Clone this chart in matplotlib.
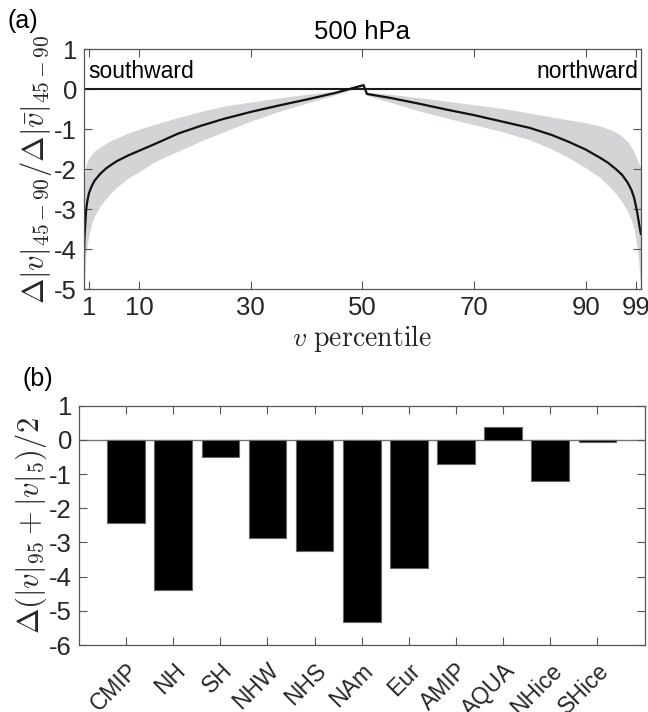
import matplotlib
matplotlib.use("Agg")
import matplotlib.pyplot as plt

plt.rcParams['font.family'] = ['Liberation Sans', 'DejaVu Sans']
plt.rcParams['mathtext.fontset'] = 'cm'

# ---- panel (a) data ----
pct = [0.1, 0.2, 0.3, 0.5, 0.7, 1, 1.5, 2, 3, 4, 5, 6, 8, 10, 13, 17, 21, 25, 30, 35,
       40, 45, 50.2, 50.8, 55, 60, 65, 70, 75, 80, 84, 87, 90, 92.5, 94, 95.5, 96.5,
       97.5, 98.2, 98.7, 99.2, 99.5, 99.8, 99.9]
mean_ratio = [-4.12, -3.7, -3.45, -3.0, -2.8, -2.6, -2.42, -2.29, -2.12, -1.99, -1.89,
              -1.8, -1.66, -1.54, -1.36, -1.11, -0.92, -0.75, -0.57, -0.41, -0.26, -0.1,
              0.1, -0.12, -0.22, -0.36, -0.51, -0.65, -0.81, -0.97, -1.15, -1.32, -1.51,
              -1.71, -1.84, -2.01, -2.14, -2.33, -2.52, -2.72, -3.05, -3.3, -3.55, -3.62]
upper_ratio = [-2.3, -2.2, -2.05, -1.9, -1.8, -1.72, -1.62, -1.55, -1.45, -1.36, -1.28,
               -1.22, -1.1, -1.0, -0.87, -0.71, -0.56, -0.43, -0.32, -0.22, -0.13, -0.05,
               0.13, -0.08, -0.13, -0.21, -0.3, -0.39, -0.48, -0.6, -0.7, -0.77, -0.84,
               -0.92, -0.99, -1.08, -1.18, -1.31, -1.45, -1.57, -1.75, -1.85, -1.93, -1.97]
lower_ratio = [-5.0, -4.75, -4.5, -4.1, -3.9, -3.65, -3.35, -3.17, -2.92, -2.75, -2.58,
               -2.45, -2.23, -2.06, -1.8, -1.55, -1.3, -1.08, -0.8, -0.56, -0.35, -0.15,
               0.07, -0.16, -0.33, -0.54, -0.72, -0.89, -1.06, -1.27, -1.5, -1.72, -1.97,
               -2.2, -2.4, -2.63, -2.82, -3.05, -3.28, -3.5, -3.95, -4.3, -4.8, -5.0]
xticks_a = [1, 10, 30, 50, 70, 90, 99]
yticks_a = [1, 0, -1, -2, -3, -4, -5]

# ---- panel (b) data ----
categories = ['CMIP', 'NH', 'SH', 'NHW', 'NHS', 'NAm', 'Eur', 'AMIP', 'AQUA', 'NHice', 'SHice']
bar_values = [-2.43, -4.38, -0.49, -2.86, -3.25, -5.33, -3.76, -0.71, 0.37, -1.19, -0.07]
yticks_b = [1, 0, -1, -2, -3, -4, -5, -6]

axcol = '#555555'
txtcol = '#262626'
tick_fs = 18.5

fig = plt.figure(figsize=(6.48, 7.12), dpi=100)

# ---------------- panel (a) ----------------
ax1 = fig.add_axes([0.1296, 0.594, 0.8594, 0.337])
ax1.fill_between(pct, lower_ratio, upper_ratio, color='#d3d4d6', linewidth=0)
ax1.axhline(0, color='#1a1a1a', lw=1.5)
ax1.plot(pct, mean_ratio, color='#111111', lw=1.6)
ax1.set_xlim(0.1, 99.9)
ax1.set_ylim(-5, 1)
ax1.set_xticks(xticks_a)
ax1.set_yticks(yticks_a)
ax1.set_xticklabels([str(t) for t in xticks_a])
ax1.set_yticklabels([str(t) for t in yticks_a])
ax1.set_title('500 hPa', fontsize=18.5, color='black', pad=7)
ax1.set_xlabel(r'$v\ \mathrm{percentile}$', fontsize=20, color=txtcol, labelpad=2)
ax1.set_ylabel(r'$\Delta|v|_{45-90}/\Delta|\bar{v}|_{45-90}$', fontsize=22, color=txtcol, labelpad=0)
ax1.text(0.007, 0.955, 'southward', transform=ax1.transAxes, fontsize=16.5, va='top', ha='left')
ax1.text(0.996, 0.955, 'northward', transform=ax1.transAxes, fontsize=16.5, va='top', ha='right')

# ---------------- panel (b) ----------------
ax2 = fig.add_axes([0.1219, 0.0941, 0.8727, 0.3361])
xpos = list(range(1, len(categories) + 1))
ax2.bar(xpos, bar_values, width=0.8, color='black', edgecolor='#666666', linewidth=0.8, zorder=2)
ax2.axhline(0, color='#777777', lw=1.0, zorder=1)
ax2.set_xlim(0, 12)
ax2.set_ylim(-6, 1)
ax2.set_xticks(xpos)
ax2.set_xticklabels(categories, rotation=45, ha='right', va='top', rotation_mode='anchor',
                    fontsize=16.5)
ax2.set_yticks(yticks_b)
ax2.set_yticklabels([str(t) for t in yticks_b])
ax2.set_ylabel(r'$\Delta(|v|_{95}+|v|_5)/2$', fontsize=22, color=txtcol, labelpad=0)

for ax in (ax1, ax2):
    for s in ax.spines.values():
        s.set_color(axcol)
        s.set_linewidth(0.9)
    ax.tick_params(direction='in', length=6, width=0.8, color=axcol, labelcolor=txtcol,
                   top=True, right=True, labelsize=tick_fs, pad=5)

ax2.tick_params(axis='x', labelsize=16.5, pad=10)

fig.text(0.012, 0.97, '(a)', fontsize=18, color='black', ha='left', va='center')
fig.text(0.035, 0.467, '(b)', fontsize=18, color='black', ha='left', va='center')

fig.savefig('out.png', dpi=100)
